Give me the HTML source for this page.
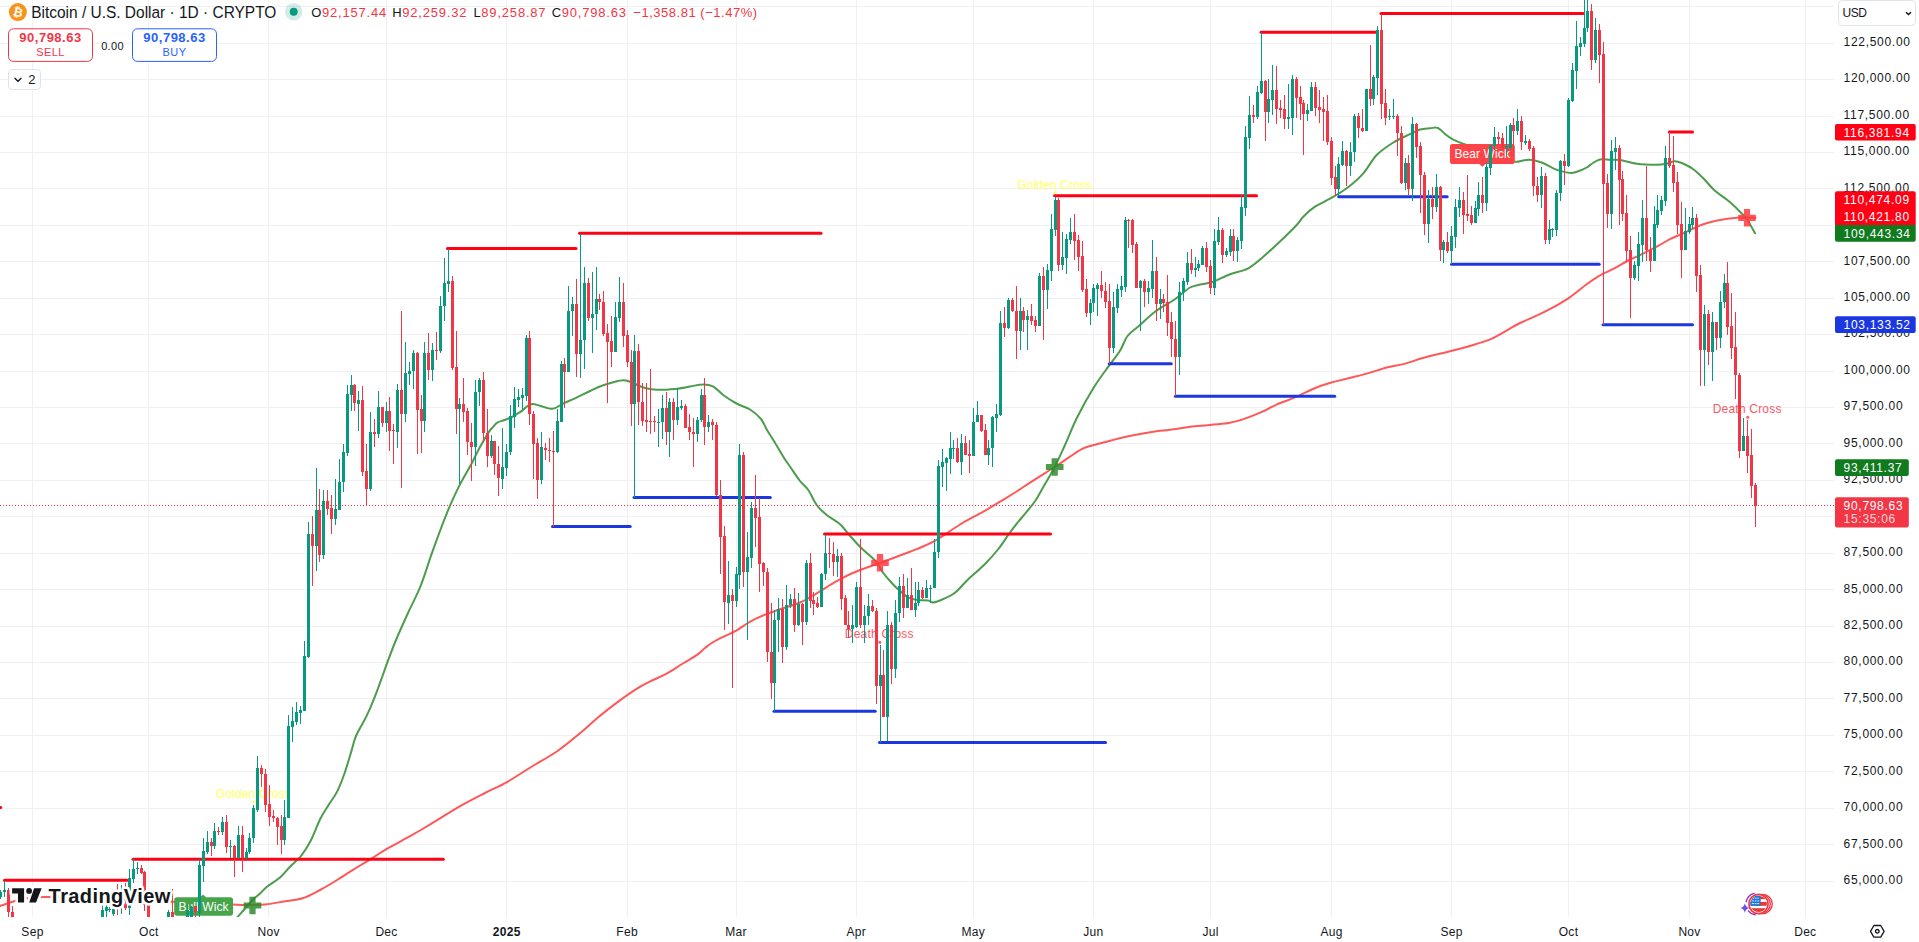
<!DOCTYPE html>
<html lang="en"><head><meta charset="utf-8"><title>BTCUSD chart</title>
<style>
html,body{margin:0;padding:0;background:#fff;}
body{width:1919px;height:942px;overflow:hidden;position:relative;font-family:"Liberation Sans", Arial, sans-serif;color:#131722;}
svg{position:absolute;left:0;top:0;}
svg text{font-family:"Liberation Sans", Arial, sans-serif;}
.ax{font-size:12px;fill:#131722;letter-spacing:.7px;}
.tl{font-size:12px;fill:#131722;text-anchor:middle;letter-spacing:.3px;}
.lbl{font-size:12px;fill:#fff;letter-spacing:.7px;}
</style></head><body>
<svg width="1919" height="942" viewBox="0 0 1919 942">
<defs><clipPath id="cc"><rect x="0" y="0" width="1834" height="917"/></clipPath></defs>

<g stroke="#f0f0f2" stroke-width="1" shape-rendering="crispEdges">
<line x1="32.5" y1="0" x2="32.5" y2="917"/>
<line x1="148.5" y1="0" x2="148.5" y2="917"/>
<line x1="268.5" y1="0" x2="268.5" y2="917"/>
<line x1="386.5" y1="0" x2="386.5" y2="917"/>
<line x1="506.5" y1="0" x2="506.5" y2="917"/>
<line x1="627.5" y1="0" x2="627.5" y2="917"/>
<line x1="736.5" y1="0" x2="736.5" y2="917"/>
<line x1="856.5" y1="0" x2="856.5" y2="917"/>
<line x1="973.5" y1="0" x2="973.5" y2="917"/>
<line x1="1093.5" y1="0" x2="1093.5" y2="917"/>
<line x1="1210.5" y1="0" x2="1210.5" y2="917"/>
<line x1="1331.5" y1="0" x2="1331.5" y2="917"/>
<line x1="1451.5" y1="0" x2="1451.5" y2="917"/>
<line x1="1568.5" y1="0" x2="1568.5" y2="917"/>
<line x1="1689.5" y1="0" x2="1689.5" y2="917"/>
<line x1="1805.5" y1="0" x2="1805.5" y2="917"/>
<line x1="0" y1="6.5" x2="1834" y2="6.5"/>
<line x1="0" y1="43.5" x2="1834" y2="43.5"/>
<line x1="0" y1="79.5" x2="1834" y2="79.5"/>
<line x1="0" y1="116.5" x2="1834" y2="116.5"/>
<line x1="0" y1="152.5" x2="1834" y2="152.5"/>
<line x1="0" y1="188.5" x2="1834" y2="188.5"/>
<line x1="0" y1="225.5" x2="1834" y2="225.5"/>
<line x1="0" y1="261.5" x2="1834" y2="261.5"/>
<line x1="0" y1="298.5" x2="1834" y2="298.5"/>
<line x1="0" y1="334.5" x2="1834" y2="334.5"/>
<line x1="0" y1="371.5" x2="1834" y2="371.5"/>
<line x1="0" y1="407.5" x2="1834" y2="407.5"/>
<line x1="0" y1="443.5" x2="1834" y2="443.5"/>
<line x1="0" y1="480.5" x2="1834" y2="480.5"/>
<line x1="0" y1="516.5" x2="1834" y2="516.5"/>
<line x1="0" y1="553.5" x2="1834" y2="553.5"/>
<line x1="0" y1="589.5" x2="1834" y2="589.5"/>
<line x1="0" y1="626.5" x2="1834" y2="626.5"/>
<line x1="0" y1="662.5" x2="1834" y2="662.5"/>
<line x1="0" y1="698.5" x2="1834" y2="698.5"/>
<line x1="0" y1="735.5" x2="1834" y2="735.5"/>
<line x1="0" y1="771.5" x2="1834" y2="771.5"/>
<line x1="0" y1="808.5" x2="1834" y2="808.5"/>
<line x1="0" y1="844.5" x2="1834" y2="844.5"/>
<line x1="0" y1="881.5" x2="1834" y2="881.5"/>
</g>
<g clip-path="url(#cc)">
<path d="M0.0 906.0C2.8 905.1 11.3 901.9 16.7 900.5C22.1 899.1 26.9 898.1 32.5 897.5C38.0 896.9 40.4 896.8 50.0 897.0C59.6 897.2 76.7 898.0 90.0 898.5C103.3 899.0 116.2 899.5 130.0 900.0C143.8 900.5 160.8 901.1 172.5 901.7C184.2 902.3 190.0 903.0 200.0 903.5C210.0 904.0 224.2 904.2 232.5 904.5C240.8 904.8 244.6 905.0 250.0 905.0C255.4 905.0 259.2 905.1 265.0 904.5C270.8 903.9 278.8 902.3 285.0 901.3C291.2 900.3 296.7 900.2 302.5 898.3C308.3 896.4 314.2 893.0 320.0 890.0C325.8 887.0 331.5 883.5 337.1 880.0C342.7 876.5 348.0 872.9 353.7 869.3C359.4 865.7 366.0 862.0 371.5 858.6C377.0 855.2 380.4 852.6 386.8 848.9C393.2 845.2 404.5 839.3 410.0 836.2C415.5 833.1 415.0 833.5 420.0 830.5C425.0 827.5 433.2 822.5 440.0 818.4C446.8 814.2 453.5 809.8 461.0 805.6C468.5 801.4 477.4 796.9 485.0 793.0C492.6 789.1 498.9 786.6 506.6 782.3C514.3 778.0 522.7 772.1 531.1 767.0C539.5 761.9 548.6 757.1 556.8 751.5C565.0 745.9 573.2 738.9 580.2 733.1C587.2 727.3 592.2 722.2 598.8 716.8C605.4 711.3 613.3 705.3 619.9 700.4C626.5 695.5 633.2 690.9 638.6 687.6C644.0 684.3 647.3 682.8 652.0 680.5C656.7 678.2 661.6 676.4 666.6 673.6C671.6 670.9 676.9 667.1 682.0 664.0C687.1 660.9 693.2 657.6 697.0 654.9C700.8 652.2 702.3 650.1 705.0 648.0C707.7 645.9 710.0 644.0 713.3 642.0C716.6 640.0 721.1 637.9 725.0 636.0C728.9 634.1 732.9 632.6 736.7 630.4C740.5 628.2 744.6 625.0 748.0 623.0C751.4 621.0 753.7 619.8 757.0 618.2C760.3 616.6 764.2 615.0 768.0 613.5C771.8 612.0 774.7 611.0 780.0 609.2C785.3 607.4 793.9 605.1 800.0 602.5C806.1 599.9 811.7 596.2 816.7 593.3C821.7 590.4 825.8 587.5 830.0 585.0C834.2 582.5 836.7 580.8 841.7 578.3C846.7 575.8 853.6 572.5 860.0 570.0C866.4 567.5 873.3 565.4 880.0 563.0C886.7 560.6 893.9 557.8 900.0 555.5C906.1 553.2 911.2 551.5 916.7 549.2C922.2 546.9 928.3 544.4 933.3 541.7C938.3 539.1 941.7 536.5 946.7 533.3C951.7 530.1 957.2 526.1 963.3 522.5C969.4 518.9 977.2 515.2 983.3 511.7C989.4 508.2 994.7 504.9 1000.0 501.7C1005.3 498.5 1011.1 494.9 1015.0 492.5C1018.9 490.1 1019.7 489.4 1023.3 487.0C1026.9 484.6 1031.5 481.6 1036.7 478.3C1041.9 475.0 1049.2 470.6 1054.7 467.0C1060.2 463.4 1065.5 459.7 1070.0 456.7C1074.5 453.7 1078.0 451.1 1081.7 449.2C1085.4 447.3 1088.4 446.6 1092.0 445.5C1095.6 444.4 1097.2 444.0 1103.3 442.5C1109.3 441.0 1120.0 438.1 1128.3 436.3C1136.6 434.5 1146.3 432.8 1153.3 431.7C1160.2 430.6 1163.0 430.6 1170.0 429.7C1177.0 428.8 1186.7 427.2 1195.0 426.3C1203.3 425.4 1214.4 424.6 1220.0 424.0C1225.6 423.4 1224.8 423.7 1228.5 423.0C1232.2 422.3 1236.4 421.5 1242.1 419.6C1247.8 417.7 1256.8 414.1 1262.5 411.6C1268.2 409.1 1270.4 407.2 1276.1 404.8C1281.8 402.4 1290.2 399.6 1296.4 396.9C1302.6 394.2 1307.7 391.0 1313.4 388.7C1319.1 386.4 1324.7 384.5 1330.4 382.8C1336.1 381.1 1341.2 380.1 1347.4 378.5C1353.6 376.9 1361.3 375.2 1367.8 373.4C1374.3 371.6 1380.6 369.1 1386.5 367.5C1392.4 365.9 1397.2 365.7 1403.4 364.1C1409.6 362.5 1415.9 360.0 1423.8 357.8C1431.7 355.6 1442.5 353.2 1451.0 351.0C1459.5 348.8 1468.0 346.6 1474.8 344.5C1481.6 342.4 1486.1 341.1 1491.8 338.6C1497.5 336.1 1504.0 331.9 1508.7 329.3C1513.4 326.7 1514.0 325.9 1520.0 323.0C1526.0 320.1 1537.0 315.8 1545.0 311.7C1553.0 307.6 1561.3 302.9 1568.3 298.3C1575.2 293.7 1581.7 287.9 1586.7 284.2C1591.7 280.5 1593.9 278.9 1598.3 276.3C1602.7 273.7 1608.3 271.4 1613.3 268.8C1618.3 266.2 1624.4 262.5 1628.3 260.5C1632.2 258.5 1632.0 259.0 1636.7 256.7C1641.4 254.4 1651.2 249.6 1656.7 246.7C1662.2 243.8 1665.0 241.7 1670.0 239.2C1675.0 236.7 1681.2 234.2 1686.7 231.7C1692.2 229.2 1697.8 226.1 1703.3 224.2C1708.8 222.2 1714.4 221.1 1720.0 220.0C1725.6 218.9 1732.2 218.2 1736.7 217.8C1741.2 217.4 1743.9 217.6 1747.0 217.6C1750.1 217.6 1754.1 217.8 1755.5 217.8" fill="none" stroke="#ff3b3b" stroke-width="2" stroke-linejoin="round" stroke-linecap="round" opacity="0.85"/>
<path d="M237.5 917.0C238.8 915.6 242.5 911.3 245.0 908.5C247.5 905.7 250.0 902.5 252.5 900.0C255.0 897.5 257.5 895.8 260.0 893.5C262.5 891.2 264.2 889.0 267.5 886.3C270.8 883.6 276.2 880.8 280.0 877.5C283.8 874.2 286.4 870.5 290.0 866.8C293.6 863.1 298.1 859.5 301.5 855.3C304.9 851.0 307.2 847.5 310.4 841.3C313.6 835.1 317.6 824.2 320.6 818.3C323.6 812.3 325.4 810.0 328.2 805.6C330.9 801.2 334.3 797.1 337.1 791.6C339.9 786.1 342.5 779.1 344.8 772.5C347.1 765.9 349.2 758.3 351.1 752.1C353.0 745.9 353.6 741.5 356.2 735.5C358.8 729.5 363.4 722.5 366.4 716.4C369.4 710.2 371.6 705.0 374.1 698.6C376.7 692.2 379.4 684.6 381.7 678.2C384.0 671.8 385.7 666.8 388.1 660.4C390.5 654.0 392.7 647.9 396.0 640.0C399.3 632.1 403.9 622.0 408.0 613.0C412.1 604.0 416.6 596.0 420.6 586.0C424.6 576.0 427.6 565.2 432.0 552.9C436.4 540.6 442.8 523.1 447.3 512.1C451.8 501.1 454.8 494.7 458.8 486.6C462.8 478.5 468.1 470.1 471.5 463.7C474.9 457.3 476.4 453.5 479.2 448.4C482.0 443.3 485.9 436.6 488.1 433.1C490.3 429.6 491.0 429.2 492.5 427.5C494.0 425.8 495.3 423.9 497.3 422.6C499.3 421.4 502.2 420.9 504.6 420.0C507.1 419.1 509.9 418.0 512.0 417.0C514.1 416.0 515.3 414.9 517.0 413.8C518.7 412.7 520.5 411.9 522.3 410.6C524.0 409.3 525.8 407.1 527.5 406.0C529.2 404.9 530.6 404.1 532.7 404.0C534.8 403.9 536.7 404.9 540.0 405.7C543.3 406.5 548.8 409.1 552.5 408.8C556.2 408.5 558.8 405.6 562.5 403.8C566.2 402.1 570.4 400.4 575.0 398.3C579.6 396.2 585.4 393.1 590.0 391.0C594.6 388.9 598.3 387.0 602.5 385.5C606.7 384.0 611.5 382.7 615.0 381.8C618.5 380.9 621.0 380.3 623.5 380.3C626.0 380.3 628.1 381.1 630.0 381.7C631.9 382.3 632.5 382.9 635.0 384.0C637.5 385.1 641.2 387.0 645.0 388.0C648.8 389.0 652.5 389.6 657.5 389.8C662.5 390.0 669.6 389.5 675.0 389.0C680.4 388.5 685.4 387.4 690.0 386.6C694.6 385.8 698.7 384.4 702.5 384.4C706.3 384.3 709.5 384.5 713.0 386.3C716.5 388.1 719.6 392.4 723.5 395.3C727.4 398.2 732.1 401.1 736.5 403.5C740.9 405.9 745.9 406.9 750.0 409.5C754.1 412.1 758.2 415.6 761.0 419.0C763.8 422.4 765.0 426.5 767.0 430.0C769.0 433.5 770.6 435.6 773.3 440.0C776.0 444.4 780.3 452.0 783.3 456.7C786.2 461.4 788.2 463.9 791.0 468.0C793.8 472.1 797.1 477.3 800.0 481.0C802.9 484.7 805.5 486.0 808.3 490.0C811.1 494.0 813.6 500.8 816.7 505.0C819.8 509.2 822.8 511.8 826.7 515.0C830.6 518.2 836.1 520.7 840.0 524.2C843.9 527.7 846.7 532.0 850.0 535.8C853.3 539.5 856.7 543.4 860.0 546.7C863.3 550.0 867.2 553.2 870.0 555.8C872.8 558.4 874.5 559.6 876.7 562.5C878.9 565.4 881.1 569.9 883.3 573.0C885.5 576.1 887.7 578.5 890.0 581.0C892.3 583.5 894.0 585.5 897.0 588.3C900.0 591.0 904.8 595.5 908.3 597.5C911.8 599.5 915.0 599.5 918.3 600.0C921.6 600.5 925.8 600.1 928.3 600.5C930.8 600.9 931.0 602.8 933.5 602.5C936.0 602.2 939.7 600.6 943.3 599.0C946.9 597.4 951.0 596.0 955.0 592.8C959.0 589.6 962.7 584.6 967.5 580.0C972.3 575.4 978.9 570.1 984.0 565.0C989.1 559.9 993.7 554.9 998.0 549.5C1002.3 544.1 1006.2 537.7 1010.0 532.5C1013.8 527.3 1016.8 523.7 1021.0 518.5C1025.2 513.3 1031.3 506.6 1035.0 501.3C1038.7 496.1 1040.0 492.7 1043.3 487.0C1046.6 481.3 1051.1 474.0 1054.7 467.0C1058.3 460.0 1061.3 453.1 1065.0 445.0C1068.7 436.9 1072.0 427.8 1076.7 418.3C1081.4 408.9 1088.0 396.9 1093.3 388.3C1098.6 379.7 1103.8 372.9 1108.3 366.7C1112.8 360.4 1116.8 355.9 1120.0 350.8C1123.2 345.7 1124.2 340.3 1127.5 336.0C1130.8 331.7 1135.4 329.1 1140.0 325.0C1144.6 320.9 1149.2 316.0 1155.0 311.7C1160.8 307.4 1169.2 303.2 1175.0 299.2C1180.8 295.2 1185.5 290.0 1190.0 287.5C1194.5 285.0 1197.8 285.2 1201.7 284.2C1205.6 283.2 1208.6 283.4 1213.3 281.7C1218.0 280.0 1224.2 276.4 1230.0 274.2C1235.8 272.0 1242.8 271.2 1248.3 268.3C1253.8 265.4 1258.0 261.2 1263.3 256.7C1268.6 252.2 1274.4 246.8 1280.0 241.5C1285.6 236.2 1292.8 229.1 1296.7 225.0C1300.6 220.9 1300.2 219.8 1303.3 216.7C1306.3 213.6 1310.5 209.7 1315.0 206.7C1319.5 203.7 1324.7 201.8 1330.0 198.7C1335.3 195.6 1341.2 192.5 1346.7 188.3C1352.2 184.1 1358.3 178.9 1363.3 173.3C1368.3 167.8 1371.7 160.1 1376.7 155.0C1381.7 149.9 1387.8 146.0 1393.3 142.5C1398.8 139.0 1405.5 136.4 1410.0 134.2C1414.5 132.0 1416.7 130.5 1420.0 129.5C1423.3 128.5 1427.3 128.6 1430.0 128.3C1432.7 128.0 1434.5 127.3 1436.3 127.6C1438.0 127.8 1439.0 128.7 1440.5 129.8C1442.0 130.9 1442.9 132.3 1445.0 134.0C1447.1 135.7 1450.5 138.1 1453.3 139.7C1456.1 141.2 1457.2 141.6 1461.7 143.3C1466.2 145.0 1474.0 147.7 1480.0 150.0C1486.0 152.3 1492.2 155.1 1498.0 157.0C1503.8 158.9 1511.0 161.1 1515.0 161.7C1519.0 162.3 1519.5 161.1 1522.0 160.8C1524.5 160.5 1526.7 159.5 1530.0 159.8C1533.3 160.1 1537.8 161.1 1541.7 162.5C1545.6 163.9 1549.9 166.8 1553.3 168.3C1556.7 169.8 1558.9 170.5 1562.0 171.3C1565.1 172.1 1568.9 173.1 1571.7 173.0C1574.5 172.9 1576.5 171.9 1579.0 171.0C1581.5 170.1 1584.4 168.8 1586.7 167.5C1589.0 166.2 1590.8 164.3 1593.0 163.0C1595.2 161.7 1597.2 160.0 1600.0 159.5C1602.8 159.0 1606.7 159.7 1610.0 159.8C1613.3 159.9 1615.5 159.3 1620.0 160.0C1624.5 160.7 1630.6 162.9 1636.7 163.7C1642.8 164.5 1651.7 164.7 1656.7 164.7C1661.8 164.7 1664.0 164.1 1667.0 163.5C1670.0 162.9 1672.2 161.2 1675.0 161.3C1677.8 161.4 1681.0 162.7 1684.0 164.0C1687.0 165.3 1690.1 166.8 1693.3 169.2C1696.5 171.6 1699.7 174.7 1703.3 178.3C1706.9 181.9 1710.8 187.1 1715.0 190.8C1719.2 194.6 1724.1 197.3 1728.3 200.8C1732.5 204.3 1736.9 208.6 1740.0 211.7C1743.1 214.8 1744.5 215.6 1747.0 219.2C1749.5 222.8 1753.7 231.0 1755.0 233.3" fill="none" stroke="#2e8b2e" stroke-width="2" stroke-linejoin="round" stroke-linecap="round" opacity="0.85"/>
<line x1="-2" y1="807.5" x2="0.7" y2="807.5" stroke="#ff0014" stroke-width="3" stroke-linecap="round"/>
<line x1="4.5" y1="880.3" x2="127" y2="880.3" stroke="#ff0014" stroke-width="3" stroke-linecap="round"/>
<line x1="133" y1="859.3" x2="443.3" y2="859.3" stroke="#ff0014" stroke-width="3" stroke-linecap="round"/>
<line x1="447.5" y1="248.4" x2="576" y2="248.4" stroke="#ff0014" stroke-width="3" stroke-linecap="round"/>
<line x1="579.5" y1="233.3" x2="821" y2="233.3" stroke="#ff0014" stroke-width="3" stroke-linecap="round"/>
<line x1="824.5" y1="534" x2="1050.5" y2="534" stroke="#ff0014" stroke-width="3" stroke-linecap="round"/>
<line x1="1054.5" y1="195.7" x2="1256.5" y2="195.7" stroke="#ff0014" stroke-width="3" stroke-linecap="round"/>
<line x1="1261" y1="32.2" x2="1376.3" y2="32.2" stroke="#ff0014" stroke-width="3" stroke-linecap="round"/>
<line x1="1381" y1="13.5" x2="1583.2" y2="13.5" stroke="#ff0014" stroke-width="3" stroke-linecap="round"/>
<line x1="1669.3" y1="132" x2="1692.5" y2="132" stroke="#ff0014" stroke-width="3" stroke-linecap="round"/>
<line x1="552.5" y1="526.5" x2="630.2" y2="526.5" stroke="#1b38e0" stroke-width="3" stroke-linecap="round"/>
<line x1="634" y1="497.5" x2="770.3" y2="497.5" stroke="#1b38e0" stroke-width="3" stroke-linecap="round"/>
<line x1="774" y1="711.2" x2="875.2" y2="711.2" stroke="#1b38e0" stroke-width="3" stroke-linecap="round"/>
<line x1="879.5" y1="742.6" x2="1105.5" y2="742.6" stroke="#1b38e0" stroke-width="3" stroke-linecap="round"/>
<line x1="1109.3" y1="363.8" x2="1171.3" y2="363.8" stroke="#1b38e0" stroke-width="3" stroke-linecap="round"/>
<line x1="1175.4" y1="396.2" x2="1334.7" y2="396.2" stroke="#1b38e0" stroke-width="3" stroke-linecap="round"/>
<line x1="1338.7" y1="196.7" x2="1447.2" y2="196.7" stroke="#1b38e0" stroke-width="3" stroke-linecap="round"/>
<line x1="1451.5" y1="264.3" x2="1599.2" y2="264.3" stroke="#1b38e0" stroke-width="3" stroke-linecap="round"/>
<line x1="1603" y1="324.7" x2="1692.5" y2="324.7" stroke="#1b38e0" stroke-width="3" stroke-linecap="round"/>
<path d="M243.7 902.4H249.4V896.7H255.6V902.4H261.3V908.6H255.6V914.3H249.4V908.6H243.7z" fill="#2e8b2e" opacity="0.85"/>
<path d="M1045.9 463.9H1051.6000000000001V458.2H1057.8V463.9H1063.5V470.1H1057.8V475.8H1051.6000000000001V470.1H1045.9z" fill="#2e8b2e" opacity="0.85"/>
<path d="M871.2 559.6999999999999H876.9V554.0H883.1V559.6999999999999H888.8V565.9H883.1V571.5999999999999H876.9V565.9H871.2z" fill="#ff3a40" opacity="0.85"/>
<path d="M1738.2 214.70000000000002H1743.9V209.0H1750.1V214.70000000000002H1755.8V220.9H1750.1V226.60000000000002H1743.9V220.9H1738.2z" fill="#ff3a40" opacity="0.85"/>
<text x="253.4" y="797.6" text-anchor="middle" font-size="12" letter-spacing="0.15" fill="#ffff52" opacity="0.92">Golden Cross</text><circle cx="253.9" cy="801.8" r="1.5" fill="#ffff52" opacity="0.92"/>
<text x="1054.7" y="188.7" text-anchor="middle" font-size="12" letter-spacing="0.15" fill="#ffff52" opacity="0.92">Golden Cross</text><circle cx="1055.2" cy="192.4" r="1.5" fill="#ffff52" opacity="0.92"/>
<text x="879.3" y="637.5" text-anchor="middle" font-size="12" letter-spacing="0.2" fill="#f7525f" opacity="0.95">Death Cross</text><circle cx="879.8" cy="642.2" r="1.5" fill="#f7525f" opacity="0.95"/>
<text x="1747.2" y="413" text-anchor="middle" font-size="12" letter-spacing="0.2" fill="#f7525f" opacity="0.95">Death Cross</text><circle cx="1747.7" cy="417.2" r="1.5" fill="#f7525f" opacity="0.95"/>
<path d="M177 897.2H200L203 894.4L206 897.2H230.200a2.8 2.8 0 0 1 2.8 2.8V913a2.800 2.8 0 0 1 -2.8 2.8H177a2.8 2.8 0 0 1 -2.8 -2.8V900a2.8 2.8 0 0 1 2.800 -2.8z" fill="#46a54a"/>
<path d="M1452.700 143.900H1512a2.8 2.8 0 0 1 2.8 2.800V161.200a2.800 2.800 0 0 1 -2.8 2.800H1485.500L1482.400 166.800L1479.300 164H1452.700a2.8 2.8 0 0 1 -2.8 -2.8V146.700a2.800 2.8 0 0 1 2.800 -2.8z" fill="#ff4449"/>
<text x="203.500" y="910.900" text-anchor="middle" font-size="12" letter-spacing=".1" fill="#fff">Bull Wick</text>
<text x="1482.200" y="157.700" text-anchor="middle" font-size="12" letter-spacing=".1" fill="#fff">Bear Wick</text>
</g>
<g clip-path="url(#cc)" shape-rendering="crispEdges">
<path d="M0.5 890V899M4.5 881V897M102.5 905V922M106.5 905V917M109.5 907V912M113.5 908V916M121.5 885V914M129.5 869V915M133.5 859V883M137.5 862V874M168.5 910V926M187.5 904V939M191.5 906V922M199.5 859V917M203.5 838V882M207.5 831V854M214.5 823V849M222.5 817V835M230.5 840V858M238.5 826V859M246.5 848V860M249.5 833V854M253.5 805V843M257.5 756V812M284.5 800V845M288.5 715V818M292.5 707V742M296.5 702V725M300.5 706V724M304.5 641V711M308.5 522V658M316.5 468V571M323.5 490V559M335.5 479V525M339.5 459V510M343.5 444V492M347.5 385V456M351.5 375V411M358.5 391V431M370.5 412V491M378.5 391V438M386.5 402V432M397.5 384V448M405.5 342V422M409.5 362V385M413.5 350V389M424.5 342V432M432.5 343V381M440.5 296V353M444.5 258V321M448.5 249V292M459.5 398V484M475.5 380V466M479.5 378V406M491.5 435V458M502.5 428V489M506.5 444V476M510.5 405V455M514.5 387V428M518.5 389V407M522.5 388V410M526.5 335V401M541.5 432V484M557.5 409V453M561.5 361V422M568.5 286V372M572.5 297V336M580.5 234V378M584.5 267V369M592.5 272V353M596.5 267V330M615.5 302V352M619.5 277V322M634.5 335V498M658.5 409V447M662.5 395V439M669.5 398V457M677.5 388V425M681.5 400V410M697.5 417V442M701.5 389V422M708.5 415V432M728.5 561V624M736.5 567V607M739.5 444V589M747.5 532V640M751.5 502V568M774.5 610V711M778.5 598V652M786.5 585V650M790.5 594V608M798.5 593V626M806.5 560V625M821.5 573V607M825.5 534V580M837.5 549V577M852.5 605V643M856.5 582V628M864.5 605V643M868.5 594V625M880.5 645V743M887.5 611V741M895.5 600V678M899.5 577V622M907.5 578V608M915.5 582V617M918.5 582V606M926.5 580V598M930.5 585V603M934.5 539V588M938.5 460V558M942.5 449V487M946.5 457V491M950.5 432V474M953.5 440V459M961.5 434V475M973.5 408V456M977.5 401V422M988.5 440V465M992.5 416V467M996.5 404V432M1000.5 311V416M1008.5 298V329M1020.5 298V350M1027.5 310V350M1039.5 273V326M1047.5 264V309M1051.5 214V281M1055.5 196V236M1062.5 232V270M1066.5 234V274M1070.5 218V244M1090.5 299V325M1093.5 284V312M1097.5 283V316M1113.5 292V353M1117.5 284V313M1121.5 276V297M1125.5 217V292M1140.5 280V331M1148.5 281V304M1152.5 240V298M1160.5 289V319M1179.5 282V375M1183.5 278V301M1187.5 252V285M1195.5 257V277M1198.5 260V271M1202.5 246V265M1214.5 229V295M1218.5 217V245M1226.5 248V257M1230.5 229V256M1237.5 237V262M1241.5 195V249M1245.5 126V216M1249.5 96V149M1257.5 86V119M1261.5 32V94M1268.5 79V123M1272.5 65V115M1288.5 84V129M1292.5 75V135M1307.5 104V121M1311.5 82V111M1338.5 157V196M1342.5 141V166M1350.5 142V176M1354.5 114V162M1366.5 89V131M1373.5 75V105M1377.5 26V95M1389.5 109V120M1393.5 99V119M1405.5 158V190M1412.5 117V201M1428.5 190V243M1436.5 174V212M1443.5 240V263M1451.5 226V264M1455.5 199V248M1459.5 187V217M1475.5 201V223M1478.5 182V216M1486.5 162V211M1490.5 145V175M1494.5 127V150M1506.5 126V156M1510.5 123V150M1517.5 109V135M1525.5 135V145M1541.5 167V208M1549.5 220V244M1552.5 228V237M1556.5 190V236M1560.5 160V201M1568.5 98V167M1572.5 63V102M1576.5 21V89M1580.5 37V56M1584.5 -3V47M1587.5 -11V32M1595.5 18V63M1611.5 140V229M1615.5 137V170M1634.5 261V280M1638.5 232V281M1642.5 200V262M1654.5 206V261M1657.5 195V228M1661.5 196V215M1665.5 146V206M1685.5 208V250M1689.5 217V234M1692.5 207V229M1704.5 305V386M1712.5 312V381M1720.5 291V348M1724.5 274V308M1743.5 418V451" stroke="#089981" stroke-width="1" fill="none"/>
<path d="M-1 892h3v5h-3zM3 890h3v2h-3zM101 910h3v12h-3zM105 907h3v4h-3zM108 909h3v1h-3zM112 909h3v5h-3zM120 897h3v9h-3zM128 878h3v30h-3zM132 869h3v10h-3zM136 868h3v1h-3zM167 912h3v10h-3zM186 910h3v21h-3zM190 907h3v12h-3zM198 865h3v48h-3zM202 851h3v15h-3zM206 842h3v10h-3zM213 831h3v15h-3zM221 822h3v10h-3zM229 846h3v1h-3zM237 835h3v23h-3zM245 852h3v6h-3zM248 838h3v14h-3zM252 808h3v30h-3zM256 768h3v42h-3zM283 817h3v23h-3zM287 726h3v92h-3zM291 721h3v6h-3zM295 712h3v10h-3zM299 710h3v3h-3zM303 656h3v55h-3zM307 534h3v123h-3zM315 510h3v36h-3zM322 501h3v54h-3zM334 509h3v10h-3zM338 482h3v28h-3zM342 452h3v30h-3zM346 394h3v59h-3zM350 385h3v10h-3zM357 400h3v4h-3zM369 432h3v57h-3zM377 407h3v27h-3zM385 411h3v12h-3zM396 390h3v42h-3zM404 373h3v41h-3zM408 371h3v3h-3zM412 353h3v18h-3zM423 353h3v68h-3zM431 350h3v20h-3zM439 306h3v45h-3zM443 283h3v23h-3zM447 281h3v3h-3zM458 404h3v5h-3zM474 392h3v55h-3zM478 380h3v12h-3zM490 441h3v15h-3zM501 467h3v12h-3zM505 452h3v16h-3zM509 416h3v36h-3zM513 399h3v18h-3zM517 397h3v3h-3zM521 395h3v3h-3zM525 338h3v58h-3zM540 447h3v33h-3zM556 421h3v31h-3zM560 364h3v58h-3zM567 311h3v61h-3zM571 304h3v7h-3zM579 340h3v14h-3zM583 283h3v57h-3zM591 314h3v4h-3zM595 299h3v15h-3zM614 317h3v35h-3zM618 302h3v16h-3zM633 351h3v53h-3zM657 422h3v1h-3zM661 408h3v14h-3zM668 402h3v30h-3zM676 407h3v13h-3zM680 406h3v2h-3zM696 420h3v14h-3zM700 395h3v25h-3zM707 422h3v5h-3zM727 595h3v8h-3zM735 574h3v27h-3zM738 455h3v120h-3zM746 557h3v15h-3zM750 508h3v50h-3zM773 620h3v63h-3zM777 609h3v11h-3zM785 605h3v42h-3zM789 599h3v6h-3zM797 604h3v21h-3zM805 563h3v59h-3zM820 574h3v33h-3zM824 553h3v21h-3zM836 556h3v6h-3zM851 625h3v4h-3zM855 587h3v40h-3zM863 616h3v9h-3zM867 606h3v10h-3zM879 675h3v11h-3zM886 625h3v92h-3zM894 613h3v56h-3zM898 586h3v27h-3zM906 595h3v13h-3zM914 603h3v7h-3zM917 590h3v13h-3zM925 588h3v10h-3zM929 588h3v1h-3zM933 552h3v36h-3zM937 466h3v86h-3zM941 462h3v5h-3zM945 458h3v5h-3zM949 448h3v11h-3zM952 448h3v1h-3zM960 443h3v19h-3zM972 422h3v34h-3zM976 415h3v7h-3zM987 448h3v7h-3zM991 417h3v31h-3zM995 414h3v4h-3zM999 323h3v92h-3zM1007 300h3v28h-3zM1019 311h3v20h-3zM1026 316h3v4h-3zM1038 276h3v50h-3zM1046 270h3v20h-3zM1050 229h3v42h-3zM1054 200h3v30h-3zM1061 257h3v8h-3zM1065 239h3v19h-3zM1069 232h3v8h-3zM1089 303h3v10h-3zM1092 288h3v15h-3zM1096 285h3v4h-3zM1112 307h3v41h-3zM1116 289h3v19h-3zM1120 286h3v4h-3zM1124 220h3v67h-3zM1139 281h3v7h-3zM1147 288h3v4h-3zM1151 271h3v18h-3zM1159 299h3v5h-3zM1178 292h3v65h-3zM1182 281h3v11h-3zM1186 263h3v19h-3zM1194 268h3v2h-3zM1197 264h3v4h-3zM1201 248h3v17h-3zM1213 241h3v47h-3zM1217 230h3v12h-3zM1225 251h3v4h-3zM1229 236h3v16h-3zM1236 240h3v11h-3zM1240 207h3v34h-3zM1244 137h3v71h-3zM1248 115h3v23h-3zM1256 92h3v25h-3zM1260 81h3v12h-3zM1267 99h3v13h-3zM1271 90h3v10h-3zM1287 117h3v2h-3zM1291 79h3v39h-3zM1306 110h3v4h-3zM1310 87h3v24h-3zM1337 164h3v25h-3zM1341 151h3v14h-3zM1349 152h3v14h-3zM1353 116h3v36h-3zM1365 89h3v42h-3zM1372 77h3v22h-3zM1376 30h3v48h-3zM1388 116h3v1h-3zM1392 116h3v1h-3zM1404 163h3v20h-3zM1411 124h3v65h-3zM1427 199h3v25h-3zM1435 187h3v20h-3zM1442 242h3v8h-3zM1450 236h3v15h-3zM1454 207h3v30h-3zM1458 200h3v8h-3zM1474 208h3v15h-3zM1477 195h3v14h-3zM1485 167h3v36h-3zM1489 145h3v23h-3zM1493 137h3v9h-3zM1505 146h3v2h-3zM1509 125h3v23h-3zM1516 121h3v10h-3zM1524 141h3v2h-3zM1540 176h3v19h-3zM1548 229h3v11h-3zM1551 229h3v1h-3zM1555 193h3v37h-3zM1559 161h3v32h-3zM1567 100h3v66h-3zM1571 70h3v31h-3zM1575 46h3v25h-3zM1579 43h3v4h-3zM1583 28h3v16h-3zM1586 11h3v17h-3zM1594 30h3v30h-3zM1610 151h3v63h-3zM1614 148h3v4h-3zM1633 265h3v13h-3zM1637 244h3v22h-3zM1641 218h3v27h-3zM1653 224h3v37h-3zM1656 210h3v15h-3zM1660 200h3v11h-3zM1664 158h3v43h-3zM1684 231h3v19h-3zM1688 224h3v8h-3zM1691 218h3v7h-3zM1703 314h3v36h-3zM1711 322h3v30h-3zM1719 302h3v36h-3zM1723 283h3v19h-3zM1742 436h3v15h-3z" fill="#089981"/>
<path d="M8.5 888V917M12.5 906V940M117.5 884V915M125.5 883V910M141.5 865V874M144.5 871V911M148.5 905V947M172.5 889V922M195.5 906V917M211.5 838V856M218.5 827V835M226.5 815V853M234.5 845V877M242.5 826V872M261.5 765V787M265.5 769V812M269.5 785V826M273.5 810V822M277.5 817V845M281.5 815V854M312.5 516V586M319.5 489V562M327.5 490V515M331.5 495V534M354.5 384V411M362.5 386V476M366.5 444V505M374.5 419V447M382.5 407V427M389.5 397V451M393.5 424V464M401.5 311V488M417.5 352V454M421.5 395V453M428.5 333V380M436.5 332V360M452.5 276V370M456.5 331V434M463.5 378V422M467.5 408V455M471.5 423V481M483.5 372V442M487.5 409V467M494.5 441V475M498.5 446V496M529.5 331V425M533.5 411V479M537.5 438V499M545.5 443V460M549.5 438V462M553.5 431V527M564.5 358V408M576.5 279V377M588.5 278V321M599.5 294V310M603.5 291V336M607.5 324V403M611.5 316V367M623.5 283V347M627.5 330V367M631.5 350V426M638.5 344V425M642.5 383V426M646.5 383V432M650.5 369V434M654.5 416V432M666.5 392V445M673.5 398V440M685.5 404V428M689.5 414V440M693.5 418V467M704.5 378V445M712.5 419V440M716.5 422V496M720.5 480V574M724.5 526V630M732.5 589V688M743.5 452V587M755.5 475V547M759.5 498V592M763.5 562V586M767.5 568V662M771.5 603V699M782.5 599V663M794.5 588V632M802.5 603V645M810.5 553V608M813.5 592V615M817.5 597V608M829.5 538V568M833.5 542V576M841.5 553V610M845.5 595V625M848.5 611V638M860.5 539V628M872.5 600V612M876.5 608V704M883.5 650V717M891.5 622V684M903.5 574V618M911.5 568V610M922.5 587V599M957.5 438V463M965.5 436V455M969.5 440V473M981.5 415V432M985.5 424V455M1004.5 307V337M1012.5 298V312M1016.5 286V359M1023.5 307V332M1031.5 304V325M1035.5 316V332M1043.5 267V340M1058.5 198V271M1074.5 214V260M1078.5 235V271M1082.5 241V292M1086.5 279V317M1101.5 271V298M1105.5 282V308M1109.5 284V364M1128.5 219V248M1132.5 219V253M1136.5 242V288M1144.5 279V307M1156.5 257V321M1163.5 294V312M1167.5 275V336M1171.5 312V357M1175.5 321V396M1191.5 249V274M1206.5 242V272M1210.5 260V294M1222.5 228V263M1233.5 229V261M1253.5 105V123M1265.5 80V141M1276.5 66V124M1280.5 100V118M1284.5 95V129M1296.5 77V118M1300.5 86V120M1303.5 100V155M1315.5 82V116M1319.5 90V123M1323.5 97V141M1327.5 95V145M1331.5 137V185M1335.5 166V196M1346.5 150V186M1358.5 113V138M1362.5 109V132M1370.5 45V106M1381.5 14V119M1385.5 89V125M1397.5 114V156M1401.5 126V184M1408.5 155V195M1416.5 123V158M1420.5 142V213M1424.5 172V235M1432.5 187V219M1440.5 186V261M1447.5 232V253M1463.5 192V234M1467.5 175V221M1471.5 206V225M1482.5 177V213M1498.5 132V145M1502.5 133V151M1513.5 118V157M1521.5 116V150M1529.5 139V151M1533.5 146V196M1537.5 177V202M1545.5 173V244M1564.5 154V185M1591.5 4V70M1599.5 24V83M1603.5 42V325M1607.5 174V228M1619.5 145V225M1622.5 171V221M1626.5 195V262M1630.5 236V318M1646.5 166V261M1650.5 237V272M1669.5 132V168M1673.5 136V192M1677.5 172V234M1681.5 202V278M1696.5 214V292M1700.5 265V386M1708.5 310V365M1716.5 322V350M1727.5 262V335M1731.5 293V359M1735.5 312V399M1739.5 373V458M1747.5 420V473M1751.5 429V498M1755.5 483V527" stroke="#F23645" stroke-width="1" fill="none"/>
<path d="M7 890h3v22h-3zM11 912h3v26h-3zM116 892h3v17h-3zM124 904h3v4h-3zM140 868h3v5h-3zM143 872h3v33h-3zM147 905h3v37h-3zM171 912h3v7h-3zM194 906h3v6h-3zM210 842h3v4h-3zM217 831h3v1h-3zM225 822h3v25h-3zM233 846h3v12h-3zM241 835h3v23h-3zM260 768h3v6h-3zM264 774h3v31h-3zM268 804h3v13h-3zM272 816h3v2h-3zM276 818h3v9h-3zM280 826h3v14h-3zM311 534h3v12h-3zM318 510h3v45h-3zM326 501h3v8h-3zM330 508h3v11h-3zM353 385h3v18h-3zM361 400h3v72h-3zM365 471h3v18h-3zM373 432h3v2h-3zM381 407h3v16h-3zM388 411h3v20h-3zM392 430h3v1h-3zM400 390h3v24h-3zM416 353h3v57h-3zM420 409h3v12h-3zM427 353h3v17h-3zM435 350h3v1h-3zM451 281h3v87h-3zM455 367h3v42h-3zM462 404h3v8h-3zM466 411h3v31h-3zM470 442h3v5h-3zM482 380h3v53h-3zM486 433h3v23h-3zM493 441h3v23h-3zM497 464h3v14h-3zM528 338h3v76h-3zM532 414h3v30h-3zM536 443h3v37h-3zM544 448h3v2h-3zM548 450h3v1h-3zM552 451h3v1h-3zM563 364h3v8h-3zM575 304h3v50h-3zM587 283h3v35h-3zM598 299h3v3h-3zM602 302h3v32h-3zM606 333h3v9h-3zM610 341h3v11h-3zM622 302h3v34h-3zM626 335h3v27h-3zM630 362h3v42h-3zM637 351h3v51h-3zM641 402h3v19h-3zM645 420h3v2h-3zM649 421h3v1h-3zM653 421h3v1h-3zM665 408h3v24h-3zM672 402h3v18h-3zM684 406h3v22h-3zM688 427h3v5h-3zM692 432h3v2h-3zM703 395h3v32h-3zM711 422h3v3h-3zM715 425h3v70h-3zM719 495h3v42h-3zM723 536h3v66h-3zM731 595h3v6h-3zM742 455h3v117h-3zM754 508h3v10h-3zM758 517h3v47h-3zM762 563h3v9h-3zM766 572h3v80h-3zM770 652h3v31h-3zM781 609h3v38h-3zM793 599h3v26h-3zM801 604h3v18h-3zM809 563h3v38h-3zM812 600h3v4h-3zM816 603h3v4h-3zM828 553h3v1h-3zM832 554h3v8h-3zM840 556h3v43h-3zM844 598h3v27h-3zM847 625h3v4h-3zM859 587h3v38h-3zM871 606h3v5h-3zM875 611h3v75h-3zM882 675h3v42h-3zM890 625h3v44h-3zM902 586h3v22h-3zM910 595h3v15h-3zM921 590h3v8h-3zM956 448h3v14h-3zM964 443h3v12h-3zM968 454h3v2h-3zM980 415h3v16h-3zM984 430h3v25h-3zM1003 323h3v5h-3zM1011 300h3v11h-3zM1015 311h3v20h-3zM1022 311h3v9h-3zM1030 316h3v5h-3zM1034 320h3v6h-3zM1042 276h3v14h-3zM1057 200h3v65h-3zM1073 232h3v9h-3zM1077 240h3v17h-3zM1081 256h3v34h-3zM1085 289h3v24h-3zM1100 285h3v6h-3zM1104 291h3v11h-3zM1108 301h3v47h-3zM1127 220h3v1h-3zM1131 220h3v25h-3zM1135 244h3v44h-3zM1143 281h3v11h-3zM1155 271h3v33h-3zM1162 299h3v4h-3zM1166 302h3v21h-3zM1170 322h3v17h-3zM1174 339h3v18h-3zM1190 263h3v7h-3zM1205 248h3v19h-3zM1209 266h3v22h-3zM1221 230h3v25h-3zM1232 236h3v15h-3zM1252 115h3v2h-3zM1264 81h3v31h-3zM1275 90h3v19h-3zM1279 108h3v2h-3zM1283 109h3v10h-3zM1295 79h3v19h-3zM1299 97h3v7h-3zM1302 103h3v11h-3zM1314 87h3v21h-3zM1318 107h3v3h-3zM1322 109h3v3h-3zM1326 111h3v31h-3zM1330 141h3v37h-3zM1334 177h3v12h-3zM1345 151h3v15h-3zM1357 116h3v12h-3zM1361 128h3v3h-3zM1369 89h3v10h-3zM1380 30h3v74h-3zM1384 103h3v15h-3zM1396 116h3v17h-3zM1400 133h3v50h-3zM1407 163h3v26h-3zM1415 124h3v23h-3zM1419 146h3v29h-3zM1423 175h3v49h-3zM1431 199h3v8h-3zM1439 187h3v63h-3zM1446 242h3v9h-3zM1462 200h3v15h-3zM1466 214h3v2h-3zM1470 215h3v8h-3zM1481 195h3v8h-3zM1497 137h3v2h-3zM1501 138h3v10h-3zM1512 125h3v6h-3zM1520 121h3v21h-3zM1528 141h3v8h-3zM1532 148h3v38h-3zM1536 186h3v9h-3zM1544 176h3v64h-3zM1563 161h3v5h-3zM1590 11h3v49h-3zM1598 30h3v25h-3zM1602 54h3v130h-3zM1606 183h3v31h-3zM1618 148h3v32h-3zM1621 179h3v35h-3zM1625 213h3v38h-3zM1629 250h3v28h-3zM1645 218h3v32h-3zM1649 250h3v11h-3zM1668 158h3v8h-3zM1672 165h3v18h-3zM1676 182h3v43h-3zM1680 224h3v26h-3zM1695 218h3v58h-3zM1699 275h3v75h-3zM1707 314h3v38h-3zM1715 322h3v16h-3zM1726 283h3v44h-3zM1730 326h3v22h-3zM1734 347h3v28h-3zM1738 375h3v76h-3zM1746 436h3v20h-3zM1750 455h3v31h-3zM1754 485h3v21h-3z" fill="#F23645"/>
</g>
<line x1="0" y1="505.5" x2="1834" y2="505.5" stroke="#F23645" stroke-width="1" stroke-dasharray="1 2"/>
<text class="ax" x="1843.6" y="46.0">122,500.00</text>
<text class="ax" x="1843.6" y="82.4">120,000.00</text>
<text class="ax" x="1843.6" y="118.9">117,500.00</text>
<text class="ax" x="1843.6" y="155.3">115,000.00</text>
<text class="ax" x="1843.6" y="191.7">112,500.00</text>
<text class="ax" x="1843.6" y="228.2">110,000.00</text>
<text class="ax" x="1843.6" y="264.6">107,500.00</text>
<text class="ax" x="1843.6" y="301.0">105,000.00</text>
<text class="ax" x="1843.6" y="337.4">102,500.00</text>
<text class="ax" x="1843.6" y="373.9">100,000.00</text>
<text class="ax" x="1843.6" y="410.3">97,500.00</text>
<text class="ax" x="1843.6" y="446.7">95,000.00</text>
<text class="ax" x="1843.6" y="483.2">92,500.00</text>
<text class="ax" x="1843.6" y="519.6">90,000.00</text>
<text class="ax" x="1843.6" y="556.0">87,500.00</text>
<text class="ax" x="1843.6" y="592.5">85,000.00</text>
<text class="ax" x="1843.6" y="628.9">82,500.00</text>
<text class="ax" x="1843.6" y="665.3">80,000.00</text>
<text class="ax" x="1843.6" y="701.7">77,500.00</text>
<text class="ax" x="1843.6" y="738.2">75,000.00</text>
<text class="ax" x="1843.6" y="774.6">72,500.00</text>
<text class="ax" x="1843.6" y="811.0">70,000.00</text>
<text class="ax" x="1843.6" y="847.5">67,500.00</text>
<text class="ax" x="1843.6" y="883.9">65,000.00</text>
<rect x="1835" y="123.9" width="80.70000000000005" height="16.69999999999999" rx="2" fill="#ff0014"/>
<text class="lbl" x="1843.6" y="136.6">116,381.94</text>
<path d="M1837 191.3H1913.7a2 2 0 0 1 2 2V225H1835V193.3a2 2 0 0 1 2 -2z" fill="#ff0014"/>
<text class="lbl" x="1843.6" y="204">110,474.09</text>
<text class="lbl" x="1843.6" y="221">110,421.80</text>
<path d="M1835 225H1915.7V239.7a2 2 0 0 1 -2 2H1837a2 2 0 0 1 -2 -2z" fill="#0f7a1e"/>
<text class="lbl" x="1843.6" y="237.6">109,443.34</text>
<rect x="1835" y="316.3" width="80.70000000000005" height="16.69999999999999" rx="2" fill="#1b38e0"/>
<text class="lbl" x="1843.6" y="329">103,133.52</text>
<rect x="1835" y="459.2" width="73.79999999999995" height="16.80000000000001" rx="2" fill="#0f7a1e"/>
<text class="lbl" x="1843.6" y="472">93,411.37</text>
<rect x="1835" y="497.2" width="73.79999999999995" height="30.400000000000034" rx="2" fill="#F23645"/>
<text class="lbl" x="1843.6" y="509.6">90,798.63</text>
<text class="lbl" x="1843.6" y="523.2" opacity=".78">15:35:06</text>
<text class="tl" x="32.5" y="936">Sep</text>
<text class="tl" x="148.8" y="936">Oct</text>
<text class="tl" x="268.7" y="936">Nov</text>
<text class="tl" x="386.5" y="936">Dec</text>
<text class="tl" x="506.7" y="936" font-weight="bold">2025</text>
<text class="tl" x="627.1" y="936">Feb</text>
<text class="tl" x="736.1" y="936">Mar</text>
<text class="tl" x="856.2" y="936">Apr</text>
<text class="tl" x="973.3" y="936">May</text>
<text class="tl" x="1093.4" y="936">Jun</text>
<text class="tl" x="1210.5" y="936">Jul</text>
<text class="tl" x="1331.6" y="936">Aug</text>
<text class="tl" x="1451.6" y="936">Sep</text>
<text class="tl" x="1568.5" y="936">Oct</text>
<text class="tl" x="1689.5" y="936">Nov</text>
<text class="tl" x="1805.3" y="936">Dec</text>
<g transform="translate(1877.3 931.3)" fill="none" stroke="#131722" stroke-width="1.3"><path d="M-3.4 -5.800H3.400L6.800 0L3.400 5.800H-3.400L-6.800 0z" stroke-linejoin="round"/><circle r="1.800"/></g>
<g>
<path d="M1754.05 893.4A11 11 0 0 0 1746.14 901.7M1748.5 911.1A11 11 0 0 0 1755 914.800" fill="none" stroke="#8a27c4" stroke-width="1.400" stroke-linecap="round"/>
<path d="M1744.85 903.3q.7 4 4.75 4.750q-4.050 .75 -4.75 4.750q-.7 -4 -4.75 -4.750q4.050 -.75 4.750 -4.750z" fill="#6a4cf5"/>
<circle cx="1762.6" cy="904" r="9.700" fill="#fff" stroke="#f23645" stroke-width="1.300"/>
<circle cx="1760.6" cy="904" r="9.700" fill="#fff" stroke="#f23645" stroke-width="1.300"/>
<circle cx="1758.5" cy="904" r="9.600" fill="#fff" stroke="#f23645" stroke-width="1.700"/>
<clipPath id="fl"><circle cx="1758.6" cy="903.800" r="8.300"/></clipPath>
<g clip-path="url(#fl)"><rect x="1750" y="895" width="18" height="18" fill="#fff"/>
<rect x="1750" y="896.400" width="18" height="2.800" fill="#e53935"/><rect x="1750" y="901.900" width="18" height="3.900" fill="#e53935"/><rect x="1750" y="908.200" width="18" height="4" fill="#e53935"/>
<rect x="1750" y="895" width="10.600" height="10.800" fill="#1976d8"/>
<g fill="#d6e9fb"><rect x="1752.600" y="897.700" width="6.400" height="1"/><rect x="1751.800" y="900.400" width="7.400" height="1"/><rect x="1751.800" y="903.100" width="7.400" height="1"/></g>
<g fill="#1976d8"><rect x="1754.300" y="897.500" width=".7" height="6.800"/><rect x="1756.600" y="897.500" width=".7" height="6.800"/></g>
</g></g>
<g>
<path d="M12.1 888.2H24.1V902.6H18V893.6H12.1z M26.2 890.9a2.9 2.9 0 1 0 5.8 0a2.9 2.9 0 1 0 -5.8 0z M34.1 888.2H41.700L36 902.6H29.2z" fill="#15161a" stroke="#fff" stroke-width="5.200" stroke-linejoin="round" paint-order="stroke"/>
<text x="48.600" y="902.6" font-size="20" font-weight="bold" letter-spacing=".42" fill="#15161a" stroke="#fff" stroke-width="5.200" stroke-linejoin="round" paint-order="stroke">TradingView</text>
</g>
<g>
<circle cx="17.9" cy="12.1" r="9" fill="#f7931a"/>
<text x="17.9" y="16.3" text-anchor="middle" font-size="12" font-weight="bold" fill="#fff" transform="rotate(14 17.9 12.1)">₿</text>
<text transform="translate(31.200 17.500) scale(.916 1)" font-size="16.900" fill="#131722" id="ttl">Bitcoin / U.S. Dollar · 1D · CRYPTO</text>
<circle cx="293.700" cy="11.8" r="8.800" fill="#089981" opacity=".18"/><circle cx="293.7" cy="11.8" r="4" fill="#089981"/>
<g font-size="13" letter-spacing=".6">
<text x="311.2" y="17" fill="#131722">O<tspan fill="#f23645" letter-spacing=".8">92,157.44</tspan></text>
<text x="392.2" y="17" fill="#131722">H<tspan fill="#f23645" letter-spacing=".8">92,259.32</tspan></text>
<text x="473.5" y="17" fill="#131722">L<tspan fill="#f23645" letter-spacing=".8">89,258.87</tspan></text>
<text x="551.8" y="17" fill="#131722">C<tspan fill="#f23645" letter-spacing=".8">90,798.63</tspan></text>
<text x="633.3" y="17" fill="#f23645" letter-spacing=".52">−1,358.81 (−1.47%)</text>
</g>
<rect x="8.5" y="28.8" width="84" height="32.600" rx="5" fill="#fff" stroke="#f23645" stroke-width="1"/>
<text x="50.500" y="42.3" text-anchor="middle" font-size="13" font-weight="bold" letter-spacing=".5" fill="#f23645">90,798.63</text>
<text x="50.5" y="56" text-anchor="middle" font-size="11" letter-spacing=".4" fill="#f23645">SELL</text>
<text x="112.5" y="49.500" text-anchor="middle" font-size="11" letter-spacing=".3" fill="#131722">0.00</text>
<rect x="132.5" y="28.8" width="84" height="32.6" rx="5" fill="#fff" stroke="#2962ff" stroke-width="1"/>
<text x="174.5" y="42.3" text-anchor="middle" font-size="13" font-weight="bold" letter-spacing=".5" fill="#2962ff">90,798.63</text>
<text x="174.5" y="56" text-anchor="middle" font-size="11" letter-spacing=".4" fill="#2962ff">BUY</text>
<rect x="8.5" y="69.5" width="32" height="20" rx="3.5" fill="#fff" stroke="#e0e3eb" stroke-width="1"/>
<path d="M14.6 78l3.4 3.200l3.4 -3.200" fill="none" stroke="#131722" stroke-width="1.400"/>
<text x="31.8" y="84.300" text-anchor="middle" font-size="13" fill="#131722">2</text>
</g>
<g>
<rect x="1838.500" y="0.5" width="77" height="25" rx="4" fill="#fff" stroke="#e0e3eb" stroke-width="1"/>
<text x="1842.500" y="17" font-size="12" letter-spacing="-.4" fill="#131722">USD</text>
<path d="M1906 12.300l2.500 2.300l2.500 -2.300" fill="none" stroke="#131722" stroke-width="1.500"/>
</g>

</svg></body></html>
